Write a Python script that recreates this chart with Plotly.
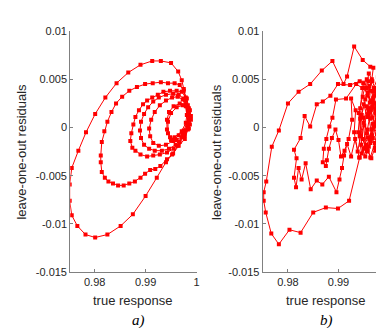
import plotly.graph_objects as go

# ---------------- data ----------------
# a) smooth trajectory
a_x = [0.9973, 0.9963, 0.9952, 0.9940, 0.9922, 0.9900, 0.9875, 0.9851, 0.9825, 0.9801,
       0.9782, 0.9766, 0.9755, 0.9751, 0.9751, 0.9755, 0.9768, 0.9783, 0.9801, 0.9821,
       0.9843, 0.9866, 0.9890, 0.9913, 0.9930, 0.9950, 0.9964, 0.9971, 0.9975, 0.9979,
       0.9983, 0.9985, 0.9983, 0.9977,
       0.9965, 0.9954, 0.9942, 0.9929, 0.9919, 0.9909, 0.9899, 0.9890, 0.9879, 0.9868,
       0.9857, 0.9846, 0.9836, 0.9827, 0.9820, 0.9814, 0.9812, 0.9812, 0.9814, 0.9819,
       0.9825, 0.9833, 0.9842, 0.9854, 0.9868, 0.9883, 0.9899, 0.9914, 0.9930, 0.9944,
       0.9957, 0.9967, 0.9975, 0.9981, 0.9985, 0.9987, 0.9983, 0.9977,
       0.9967, 0.9955, 0.9942, 0.9928, 0.9915, 0.9903, 0.9890, 0.9880, 0.9874, 0.9870,
       0.9872, 0.9876, 0.9880, 0.9887, 0.9895, 0.9903, 0.9913, 0.9924, 0.9935, 0.9948,
       0.9961, 0.9971, 0.9979, 0.9983, 0.9985, 0.9983, 0.9977,
       0.9971, 0.9959, 0.9946, 0.9932, 0.9918, 0.9907, 0.9897, 0.9891, 0.9889, 0.9891,
       0.9897, 0.9905, 0.9915, 0.9926, 0.9940, 0.9954, 0.9965, 0.9975, 0.9981, 0.9983,
       0.9981, 0.9975,
       0.9965, 0.9954, 0.9940, 0.9926, 0.9915, 0.9909, 0.9907, 0.9911, 0.9918, 0.9928,
       0.9940, 0.9952, 0.9963, 0.9973, 0.9979, 0.9981, 0.9979,
       0.9971, 0.9957, 0.9948, 0.9942, 0.9942, 0.9946, 0.9955, 0.9967, 0.9979, 0.9987,
       0.9989, 0.9985, 0.9975, 0.9961, 0.9950, 0.9944, 0.9944, 0.9950, 0.9961, 0.9973,
       0.9983, 0.9989, 0.9987]
a_y = [-0.0007, -0.0019, -0.0028, -0.0036, -0.0052, -0.0071, -0.0090, -0.0102, -0.0111, -0.0114,
       -0.0111, -0.0102, -0.0091, -0.0076, -0.0059, -0.0042, -0.0024, -0.0005, 0.0014, 0.0031,
       0.0046, 0.0057, 0.0065, 0.0069, 0.0069, 0.0067, 0.0058, 0.0049, 0.0040, 0.0028,
       0.0018, 0.0008, -0.0002, -0.0012,
       -0.0019, -0.0027, -0.0033, -0.0040, -0.0043, -0.0044, -0.0048, -0.0052, -0.0056, -0.0058,
       -0.0060, -0.0060, -0.0058, -0.0056, -0.0052, -0.0046, -0.0036, -0.0029, -0.0015, -0.0004,
       0.0006, 0.0016, 0.0025, 0.0032, 0.0038, 0.0042, 0.0045, 0.0046, 0.0047, 0.0046,
       0.0046, 0.0044, 0.0038, 0.0030, 0.0020, 0.0010, 0.0000, -0.0008,
       -0.0015, -0.0022, -0.0026, -0.0028, -0.0029, -0.0030, -0.0028, -0.0024, -0.0021, -0.0014,
       -0.0006, 0.0003, 0.0011, 0.0018, 0.0024, 0.0028, 0.0031, 0.0034, 0.0037, 0.0038,
       0.0038, 0.0037, 0.0031, 0.0023, 0.0014, 0.0004, -0.0004,
       -0.0010, -0.0018, -0.0022, -0.0024, -0.0024, -0.0022, -0.0018, -0.0011, -0.0003, 0.0006,
       0.0014, 0.0021, 0.0027, 0.0031, 0.0034, 0.0035, 0.0034, 0.0030, 0.0022, 0.0013,
       0.0004, -0.0003,
       -0.0008, -0.0014, -0.0018, -0.0019, -0.0016, -0.0009, -0.0001, 0.0008, 0.0016, 0.0023,
       0.0028, 0.0031, 0.0032, 0.0029, 0.0022, 0.0013, 0.0005,
       -0.0004, -0.0010, -0.0010, -0.0002, 0.0008, 0.0016, 0.0022, 0.0025, 0.0024, 0.0018,
       0.0008, -0.0001, -0.0008, -0.0013, -0.0013, -0.0006, 0.0006, 0.0015, 0.0021, 0.0023,
       0.0020, 0.0012, 0.0003]

# b) noisy trajectory
b_x = [0.9958, 0.9942, 0.9921, 0.9899, 0.9875, 0.9850, 0.9825, 0.9803, 0.9782, 0.9767,
       0.9756, 0.9752, 0.9752, 0.9757, 0.9768, 0.9782, 0.9800, 0.9821, 0.9844, 0.9867,
       0.9888, 0.9910, 0.9917, 0.9931, 0.9948, 0.9963, 0.9969,
       0.9966, 0.9960, 0.9955, 0.9962, 0.9970, 0.9978, 0.9984, 0.9979, 0.9972, 0.9964,
       0.9956, 0.9949, 0.9953, 0.9961, 0.9968, 0.9976, 0.9985, 0.9990, 0.9983, 0.9976,
       0.9967, 0.9957, 0.9949, 0.9943, 0.9939, 0.9946, 0.9955, 0.9963, 0.9972, 0.9979,
       0.9987, 0.9991, 0.9986, 0.9978, 0.9970, 0.9960,
       0.9942, 0.9923, 0.9899, 0.9884, 0.9869, 0.9857, 0.9844, 0.9833, 0.9825, 0.9812,
       0.9817, 0.9812, 0.9816, 0.9821, 0.9827, 0.9835, 0.9845, 0.9857, 0.9868, 0.9881,
       0.9896, 0.9902, 0.9907, 0.9911, 0.9917,
       0.9925, 0.9933, 0.9941, 0.9950, 0.9957, 0.9964, 0.9971, 0.9978, 0.9985, 0.9990,
       0.9984, 0.9977, 0.9969, 0.9961, 0.9953, 0.9946, 0.9942, 0.9951, 0.9959, 0.9967,
       0.9974, 0.9981, 0.9988, 0.9980, 0.9973, 0.9965, 0.9958, 0.9965, 0.9972, 0.9979,
       0.9986, 0.9990, 0.9983, 0.9976, 0.9968, 0.9958, 0.9947, 0.9935,
       0.9915, 0.9895, 0.9888, 0.9882, 0.9876, 0.9871, 0.9869, 0.9875, 0.9877, 0.9881,
       0.9887, 0.9894, 0.9900, 0.9905, 0.9912, 0.9920,
       0.9927, 0.9925, 0.9934, 0.9931, 0.9938, 0.9944, 0.9940, 0.9948, 0.9956, 0.9963,
       0.9959, 0.9966, 0.9974, 0.9980, 0.9984, 0.9989, 0.9982, 0.9975, 0.9970, 0.9963,
       0.9956, 0.9950, 0.9945, 0.9953, 0.9960, 0.9968, 0.9975, 0.9982, 0.9987, 0.9980,
       0.9972, 0.9965, 0.9957, 0.9950, 0.9943, 0.9948, 0.9956, 0.9963, 0.9970, 0.9977,
       0.9983, 0.9988, 0.9981, 0.9974, 0.9967, 0.9960]
b_y = [-0.0010, -0.0031, -0.0076, -0.0084, -0.0083, -0.0088, -0.0109, -0.0106, -0.0121, -0.0110,
       -0.0088, -0.0076, -0.0067, -0.0056, -0.0020, -0.0003, 0.0025, 0.0037, 0.0045, 0.0059,
       0.0069, 0.0045, 0.0053, 0.0084, 0.0070, 0.0063, 0.0062,
       0.0050, 0.0056, 0.0041, 0.0026, 0.0037, 0.0030, 0.0043, 0.0016, 0.0003, 0.0018,
       -0.0006, 0.0010, -0.0021, -0.0012, 0.0004, -0.0007, 0.0017, 0.0031, 0.0046, 0.0035,
       0.0048, 0.0033, 0.0046, 0.0020, -0.0005, -0.0027, -0.0018, -0.0031, -0.0016, 0.0004,
       0.0010, 0.0024, 0.0038, 0.0052, 0.0041, 0.0048,
       0.0048, 0.0044, 0.0045, 0.0033, 0.0027, 0.0024, 0.0001, 0.0012, -0.0011, -0.0023,
       -0.0032, -0.0052, -0.0062, -0.0042, -0.0054, -0.0037, -0.0064, -0.0055, -0.0059, -0.0051,
       -0.0067, -0.0054, -0.0042, -0.0029, -0.0017,
       -0.0030, -0.0012, -0.0031, -0.0022, -0.0002, -0.0014, 0.0002, 0.0021, 0.0030, 0.0016,
       0.0003, 0.0013, 0.0031, 0.0043, 0.0029, 0.0013, -0.0009, 0.0002, 0.0020, 0.0010,
       0.0025, 0.0014, 0.0027, 0.0036, 0.0019, -0.0002, -0.0024, -0.0032, -0.0021, -0.0005,
       0.0007, 0.0021, 0.0025, 0.0008, 0.0022, 0.0036, 0.0041, 0.0045,
       0.0030, 0.0029, 0.0010, 0.0001, -0.0012, -0.0022, -0.0036, -0.0040, -0.0034, -0.0022,
       -0.0011, -0.0002, -0.0013, -0.0030, -0.0024, -0.0012,
       0.0008, 0.0030, 0.0018, -0.0005, -0.0025, -0.0008, 0.0015, 0.0032, 0.0050, 0.0038,
       0.0014, -0.0008, -0.0024, -0.0009, 0.0012, 0.0035, 0.0022, 0.0041, 0.0026, 0.0009,
       0.0022, 0.0005, -0.0018, -0.0030, -0.0020, -0.0011, 0.0006, 0.0019, 0.0040, 0.0047,
       0.0033, 0.0020, 0.0011, 0.0024, 0.0009, -0.0012, -0.0025, -0.0016, 0.0001, 0.0017,
       0.0029, 0.0019, 0.0008, 0.0015, 0.0028, 0.0017]

x_ticks = [0.98, 0.99, 1.0]
x_ticktext = ["0.98", "0.99", "1"]
y_ticks = [0.01, 0.005, 0.0, -0.005, -0.01, -0.015]
y_ticktext = ["0.01", "0.005", "0", "-0.005", "-0.01", "-0.015"]
panel_labels = ["a)", "b)"]
x_title = "true response"
y_title = "leave-one-out residuals"

# ---------------- figure ----------------
RED = "#ff0000"
AX = "#808080"
TXT = "#262626"
FONT = "Liberation Sans, Arial, sans-serif"

fig = go.Figure()
trace_style = dict(mode="lines+markers",
                   line=dict(color=RED, width=1),
                   marker=dict(color=RED, size=4, symbol="square"),
                   showlegend=False, hoverinfo="skip")
fig.add_trace(go.Scatter(x=a_x, y=a_y, xaxis="x", yaxis="y", **trace_style))
fig.add_trace(go.Scatter(x=b_x, y=b_y, xaxis="x2", yaxis="y2", **trace_style))

W, H = 384, 328
ydom = [(H - 268) / H, (H - 17.7) / H]
ax_common = dict(showline=True, linecolor=AX, linewidth=1, mirror=False,
                 ticks="inside", ticklen=3, tickcolor=AX, tickwidth=1,
                 showgrid=False, zeroline=False,
                 tickfont=dict(family=FONT, size=11, color=TXT))

fig.update_layout(
    width=W, height=H,
    margin=dict(l=0, r=0, t=0, b=0),
    paper_bgcolor="white", plot_bgcolor="white",
    xaxis=dict(domain=[62.7 / W, 190 / W], range=[0.9752, 1.0], anchor="y",
               tickvals=x_ticks, ticktext=x_ticktext, **ax_common),
    yaxis=dict(domain=ydom, range=[-0.015, 0.01], anchor="x",
               tickvals=y_ticks, ticktext=y_ticktext, **ax_common),
    xaxis2=dict(domain=[256.7 / W, 1.0], range=[0.975, 1.0], anchor="y2",
                tickvals=x_ticks, ticktext=x_ticktext, ticklabeloverflow="allow",
                **ax_common),
    yaxis2=dict(domain=ydom, range=[-0.015, 0.01], anchor="x2",
                tickvals=y_ticks, ticktext=y_ticktext, **ax_common),
)

ann = []
for cx in (126.3, 320.3):
    ann.append(dict(x=cx / W, y=(H - 297.5) / H, xref="paper", yref="paper",
                    text=x_title, showarrow=False, xanchor="center", yanchor="middle",
                    font=dict(family=FONT, size=13, color=TXT)))
for cx in (14, 210):
    ann.append(dict(x=cx / W, y=(ydom[0] + ydom[1]) / 2, xref="paper", yref="paper",
                    text=y_title, showarrow=False, textangle=-90,
                    xanchor="center", yanchor="middle",
                    font=dict(family=FONT, size=13, color=TXT)))
for cx, lab in zip((132, 321), panel_labels):
    ann.append(dict(x=cx / W, y=0.0, xref="paper", yref="paper",
                    text="<i>" + lab + "</i>", showarrow=False,
                    xanchor="center", yanchor="bottom", borderpad=0,
                    font=dict(family="Liberation Serif, Times New Roman, serif", size=15, color="black")))
fig.update_layout(annotations=ann)

fig.write_html("out.html")
